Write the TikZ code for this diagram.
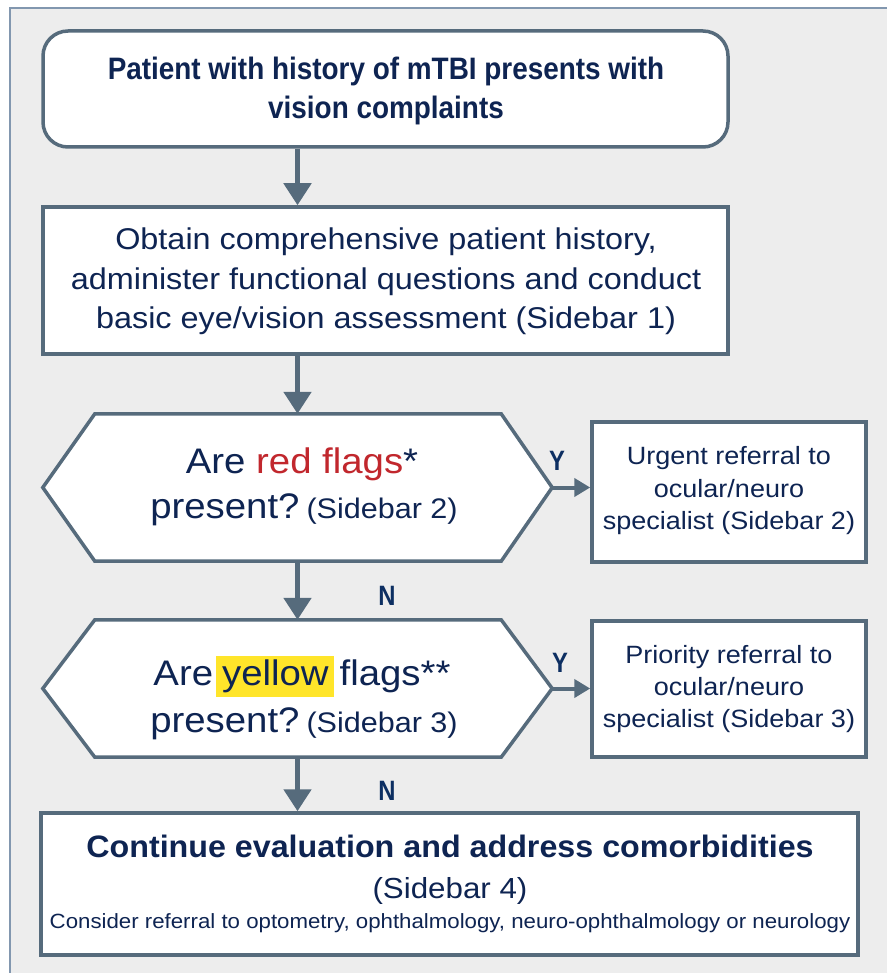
\documentclass[tikz,border=0pt]{standalone}
\usepackage{fontspec}
\setmainfont{Liberation Sans}
\newfontfamily\condbold[FakeStretch=0.9]{Liberation Sans Bold}
\newfontfamily\ynbold[FakeStretch=0.85]{Liberation Sans Bold}
\newfontfamily\demibold[FakeStretch=1.04]{Liberation Sans Bold}
\newfontfamily\widereg[FakeStretch=1.08]{Liberation Sans}
\usetikzlibrary{arrows.meta}
\definecolor{bgray}{HTML}{EDEDED}
\definecolor{edge}{HTML}{566B7C}
\definecolor{navy}{HTML}{0E2452}
\definecolor{lbl}{HTML}{0D2F62}
\definecolor{redf}{HTML}{C1272D}
\definecolor{yel}{HTML}{FFE52A}
\definecolor{framec}{HTML}{8297AF}
\newcommand{\fs}[1]{\fontsize{#1}{#1}\selectfont}
\begin{document}
\begin{tikzpicture}[x=1pt,y=-1pt,
  box/.style={draw=edge, line width=3.5pt, fill=white, inner sep=0pt},
  hexbox/.style={draw=none, inner sep=0pt, minimum width=509pt},
  txt/.style={text=navy, inner sep=0pt, anchor=base},
  down/.style={draw=edge, line width=5pt, -{Triangle[width=27pt,length=22pt]}},
  side/.style={draw=edge, line width=4pt, -{Triangle[width=18pt,length=16pt]}},
  yn/.style={text=lbl, inner sep=0pt, font=\ynbold\fs{28}}]
\useasboundingbox (0,0) rectangle (887,973);
\fill[bgray] (10,8) rectangle (887,973);
\draw[framec, line width=1.5pt] (10,973) -- (10,8) -- (887,8);

% boxes
\node[box, rounded corners=25pt, minimum width=685pt, minimum height=116pt] (b1) at (385.5,89) {};
\node[box, minimum width=685pt, minimum height=147pt] (b2) at (385.5,280.5) {};
\node[hexbox, minimum height=147pt] (d1) at (297.5,487.5) {};
\node[hexbox, minimum height=137pt] (d2) at (297.5,688.5) {};
\node[box, minimum width=274pt, minimum height=140pt] (b3) at (729,492) {};
\node[box, minimum width=274pt, minimum height=136pt] (b4) at (729,689) {};
\node[box, minimum width=817pt, minimum height=142pt] (b5) at (449.5,884) {};

\foreach \d in {d1,d2}{
  \draw[edge, line width=3.5pt, fill=white, line join=miter]
    (\d.west) -- ([xshift=52pt]\d.north west) -- ([xshift=-51pt]\d.north east)
    -- (\d.east) -- ([xshift=-51pt]\d.south east) -- ([xshift=52pt]\d.south west) -- cycle;
}

% connectors
\draw[down] (b1.south -| d1.center) -- (b2.north -| d1.center);
\draw[down] (b2.south -| d1.center) -- (d1.north);
\draw[down] (d1.south) -- (d2.north);
\draw[down] (d2.south) -- (b5.north -| d2.center);
\draw[side] (d1.east) -- (b3.west |- d1.east);
\draw[side] (d2.east) -- (b4.west |- d2.east);

% texts
\node[txt, font=\condbold\fs{31}] (t1a) at (386,80) {Patient with history of mTBI presents with};
\node[txt, font=\condbold\fs{31}] (t1b) at (386,119) {vision complaints};

\node[txt, font=\widereg\fs{30}] (t2a) at (386,250) {Obtain comprehensive patient history,};
\node[txt, font=\widereg\fs{30}] (t2b) at (386,290) {administer functional questions and conduct};
\node[txt, font=\widereg\fs{30}] (t2c) at (386,328) {basic eye/vision assessment (Sidebar 1)};

\node[txt, font=\widereg\fs{35.5}] (t3a) at (302,473) {Are {\color{redf}red flags}*};
\node[txt, font=\widereg\fs{35.5}] (t3b) at (304,518) {present?\hspace{7pt}{\fs{28.3}(Sidebar 2)}};

\node[txt, font=\widereg\fs{25}] (t4a) at (729,464) {Urgent referral to};
\node[txt, font=\widereg\fs{25}] (t4b) at (729,497) {ocular/neuro};
\node[txt, font=\widereg\fs{25}] (t4c) at (729,529) {specialist (Sidebar 2)};

\node[txt, font=\widereg\fs{35.5}] (t5a) at (302,685) {Are\hspace{3pt}{\setlength{\fboxsep}{0pt}\colorbox{yel}{\rule[-12pt]{0pt}{41pt}\hspace{6pt}yellow\hspace{5pt}}}\hspace{6pt}flags**};
\node[txt, font=\widereg\fs{35.5}] (t5b) at (304,732) {present?\hspace{7pt}{\fs{28.3}(Sidebar 3)}};

\node[txt, font=\widereg\fs{25}] (t6a) at (729,663) {Priority referral to};
\node[txt, font=\widereg\fs{25}] (t6b) at (729,695) {ocular/neuro};
\node[txt, font=\widereg\fs{25}] (t6c) at (729,727) {specialist (Sidebar 3)};

\node[txt, font=\demibold\fs{31}] (t7a) at (450,857) {Continue evaluation and address comorbidities};
\node[txt, font=\widereg\fs{29}] (t7b) at (450,898) {(Sidebar 4)};
\node[txt, font=\widereg\fs{20.6}] (t7c) at (450,928) {Consider referral to optometry, ophthalmology, neuro-ophthalmology or neurology};

% Y / N labels
\node[yn] (y1) at (557,461) {Y};
\node[yn] (y2) at (560,663) {Y};
\node[yn] (n1) at (387,596) {N};
\node[yn] (n2) at (387,791) {N};
\end{tikzpicture}
\end{document}
